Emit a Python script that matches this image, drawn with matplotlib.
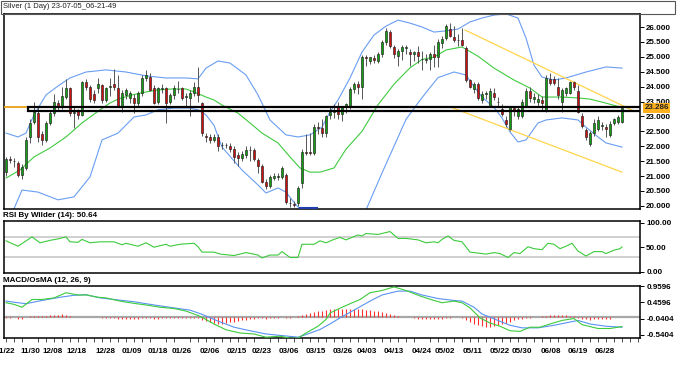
import matplotlib
matplotlib.use("Agg")
import matplotlib.pyplot as plt
from matplotlib.patches import Rectangle
from matplotlib.ticker import FixedLocator, MultipleLocator, NullFormatter
from matplotlib import font_manager

# ---- daily candles ----
opens = [21.13, 21.57, 21.52, 21.45, 21.02, 21.27, 22.31, 22.81, 23.10, 22.40,
         22.20, 22.78, 23.10, 23.45, 23.30, 23.65, 23.95, 23.12, 23.20, 23.05,
         24.15, 23.98, 23.75, 23.95, 24.05, 23.55, 23.98, 24.10, 23.95, 23.33,
         23.72, 23.62, 23.62, 23.44, 23.78, 24.30, 24.33, 23.94, 23.50, 23.92,
         23.94, 23.50, 23.72, 23.93, 23.94, 23.65, 23.61, 23.78, 24.00, 23.45,
         22.35, 22.30, 22.22, 22.32, 22.04, 22.04, 22.01, 21.90, 21.70, 21.59,
         21.70, 21.87, 21.87, 21.54, 21.34, 20.81, 20.66, 20.92, 20.98, 20.98,
         21.03, 20.10, 20.05, 20.08, 20.75, 21.82, 21.82, 21.76, 22.63, 22.60,
         22.45, 23.05, 23.15, 23.30, 23.08, 23.30, 23.30, 23.92, 24.09, 23.98,
         24.98, 24.87, 24.95, 24.87, 25.09, 25.49, 25.82, 25.32, 25.04, 25.20,
         25.30, 25.15, 25.10, 25.15, 24.91, 24.88, 24.91, 25.10, 25.00, 25.45,
         25.63, 25.93, 25.68, 25.58, 25.56, 25.30, 24.22, 23.92, 24.09, 23.55,
         23.75, 23.35, 23.80, 23.48, 23.24, 22.88, 22.58, 23.28, 23.01, 23.00,
         23.35, 23.85, 23.60, 23.50, 23.55, 23.21, 24.25, 24.25, 23.99, 23.50,
         23.80, 23.80, 24.15, 23.85, 23.01, 22.54, 22.07, 22.44, 22.58, 22.68,
         22.65, 22.38, 22.78, 22.81, 22.81]
highs = [21.65, 21.68, 21.62, 21.50, 21.40, 22.30, 22.90, 23.50, 23.30, 22.50,
         22.85, 23.20, 23.75, 23.55, 24.00, 24.25, 24.00, 23.30, 23.25, 24.20,
         24.25, 24.05, 23.90, 24.30, 24.10, 24.00, 24.30, 24.60, 24.40, 23.90,
         23.95, 23.85, 23.75, 23.85, 24.40, 24.55, 24.45, 24.05, 24.00, 24.10,
         24.00, 23.80, 24.05, 24.20, 24.00, 23.80, 23.90, 24.15, 24.66, 23.50,
         22.45, 22.40, 22.40, 22.40, 22.15, 22.10, 22.10, 22.00, 21.80, 21.85,
         22.00, 22.00, 21.95, 21.60, 21.40, 20.90, 21.05, 21.10, 21.10, 21.35,
         21.10, 20.25, 20.15, 20.65, 21.90, 22.40, 22.45, 22.75, 22.80, 22.90,
         23.05, 23.30, 23.40, 23.50, 23.35, 23.45, 24.00, 24.15, 24.20, 25.05,
         25.05, 25.00, 25.05, 25.15, 25.55, 25.95, 25.90, 25.40, 25.25, 25.40,
         25.40, 25.25, 25.20, 25.35, 25.20, 25.10, 25.15, 25.40, 25.60, 25.70,
         26.10, 26.12, 26.05, 25.75, 25.95, 25.35, 24.25, 24.15, 24.15, 23.85,
         23.85, 23.95, 23.95, 23.65, 23.40, 23.00, 23.35, 23.35, 23.30, 23.60,
         23.95, 24.00, 23.80, 23.75, 23.70, 24.40, 24.45, 24.35, 24.30, 23.95,
         24.00, 24.20, 24.20, 24.05, 23.10, 22.60, 22.50, 22.90, 23.00, 22.80,
         22.75, 22.85, 22.95, 23.05, 23.33]
lows = [21.00, 21.45, 21.30, 20.95, 20.90, 21.20, 22.10, 22.75, 22.15, 22.05,
        22.15, 22.70, 23.00, 23.20, 23.25, 23.60, 23.00, 22.60, 22.90, 23.00,
        23.90, 23.50, 23.45, 23.80, 23.45, 23.50, 23.70, 23.90, 23.30, 23.15,
        23.60, 23.45, 23.10, 23.35, 23.70, 24.20, 23.85, 23.40, 23.40, 23.80,
        22.78, 23.40, 23.60, 23.80, 23.55, 23.30, 23.00, 23.70, 23.50, 22.35,
        22.15, 22.10, 22.15, 21.85, 21.90, 21.95, 21.80, 21.45, 21.35, 21.50,
        21.60, 21.50, 21.50, 21.10, 20.75, 20.55, 20.60, 20.85, 20.85, 20.90,
        20.05, 19.97, 19.95, 20.00, 20.60, 21.70, 21.70, 21.70, 22.40, 22.30,
        22.30, 22.90, 22.95, 22.90, 22.85, 23.10, 23.25, 23.80, 23.75, 23.60,
        24.70, 24.75, 24.80, 24.80, 25.00, 25.40, 25.30, 24.95, 24.70, 24.90,
        25.10, 24.70, 24.85, 24.80, 24.55, 24.80, 24.55, 24.65, 24.65, 25.30,
        25.55, 25.65, 25.50, 25.35, 25.35, 24.15, 23.95, 23.80, 23.55, 23.45,
        23.60, 23.30, 23.55, 23.30, 23.00, 22.65, 22.50, 23.00, 22.90, 22.95,
        23.30, 23.50, 23.45, 23.35, 23.20, 23.15, 24.05, 24.05, 23.60, 23.15,
        23.70, 23.75, 23.90, 23.10, 22.60, 22.20, 22.00, 22.35, 22.50, 22.55,
        22.30, 22.30, 22.70, 22.75, 22.78]
closes = [21.57, 21.55, 21.50, 21.05, 21.30, 22.21, 22.78, 23.15, 22.31, 22.20,
          22.78, 23.10, 23.48, 23.30, 23.70, 23.95, 23.10, 23.15, 23.05, 24.15,
          23.98, 23.60, 23.55, 24.10, 23.55, 23.95, 24.02, 23.97, 23.35, 23.80,
          23.89, 23.78, 23.44, 23.78, 24.28, 24.38, 23.89, 23.44, 23.94, 23.94,
          23.44, 23.72, 23.94, 23.92, 23.61, 23.67, 23.78, 24.00, 23.72, 22.43,
          22.30, 22.22, 22.32, 22.01, 22.04, 22.04, 21.90, 21.65, 21.59, 21.74,
          21.87, 21.87, 21.56, 21.34, 20.81, 20.66, 20.98, 21.00, 20.98, 21.28,
          20.14, 20.08, 20.03, 20.59, 21.82, 21.77, 21.78, 22.63, 22.60, 22.45,
          23.00, 23.15, 23.19, 23.08, 23.30, 23.42, 23.92, 24.09, 24.00, 24.98,
          24.95, 24.98, 24.90, 25.09, 25.49, 25.88, 25.37, 25.09, 25.20, 25.32,
          25.32, 25.10, 25.15, 25.04, 24.91, 24.92, 25.08, 25.00, 25.50, 25.60,
          26.05, 25.70, 25.58, 25.56, 25.40, 24.22, 24.00, 24.09, 23.62, 23.75,
          23.80, 23.85, 23.65, 23.48, 23.08, 22.74, 23.32, 23.18, 23.24, 23.50,
          23.85, 23.61, 23.65, 23.60, 23.45, 24.28, 24.12, 24.12, 23.72, 23.89,
          23.94, 24.15, 23.98, 23.15, 22.68, 22.31, 22.44, 22.78, 22.88, 22.68,
          22.58, 22.75, 22.91, 22.98, 23.286]

# ---- Bollinger bands (20, 2), sampled ----
bb_upper_idx = [0, 3, 5, 7, 10, 13, 16, 20, 25, 30, 35, 40, 45, 48, 50, 53, 56, 60,
                63, 66, 70, 73, 76, 79, 81, 83, 86, 89, 92, 95, 98, 101, 104, 107,
                110, 113, 116, 119, 122, 125, 128, 130, 132, 134, 137, 140, 145, 150, 154]
bb_upper = [22.44, 22.31, 22.44, 23.05, 23.72, 24.02, 24.29, 24.49, 24.56, 24.49,
            24.36, 24.29, 24.29, 24.26, 24.62, 24.86, 24.79, 24.39, 23.72, 22.88,
            22.38, 22.31, 22.38, 22.64, 23.15, 23.55, 24.29, 25.16, 25.73, 26.03,
            26.23, 26.13, 26.00, 25.83, 25.87, 25.93, 26.17, 26.30, 26.40, 26.44,
            26.30, 25.63, 24.72, 24.32, 24.22, 24.29, 24.49, 24.66, 24.62]
bb_mid_idx = [0, 3.5, 7, 11, 15, 19, 23.5, 26, 28, 31.5, 35, 38, 41.5, 45, 47, 50,
              52, 54, 58, 61, 64, 68, 71, 73.5, 76, 78.5, 82, 85, 89, 93, 97, 101,
              104, 107, 110, 114, 118, 122, 127, 131, 134, 139, 143, 146, 149, 154]
bb_mid = [20.93, 21.20, 21.64, 21.94, 22.31, 22.78, 23.22, 23.45, 23.58, 23.72,
          23.82, 23.89, 23.92, 23.92, 23.82, 23.65, 23.55, 23.38, 23.11, 22.78,
          22.44, 22.11, 21.64, 21.27, 21.13, 21.13, 21.27, 21.90, 22.50, 23.39,
          24.08, 24.63, 24.91, 24.99, 25.23, 25.33, 25.02, 24.62, 24.22, 23.95,
          23.65, 23.65, 23.62, 23.58, 23.48, 23.30]
bb_lower_idx = [0, 2, 4, 8, 13, 17, 21, 24, 28, 32, 35, 38, 42, 46, 48, 50, 52, 54,
                59, 63, 65, 68, 70, 71.5, 73, 75, 80, 85, 90, 94, 100, 103, 105,
                108, 112, 115, 117, 119, 122, 124, 126, 128, 130, 133, 135, 139,
                143, 145, 148, 150, 154]
bb_lower = [19.60, 19.90, 20.53, 20.46, 20.20, 20.30, 20.97, 22.21, 22.44, 22.98,
            23.05, 23.22, 23.28, 23.28, 23.22, 23.05, 22.70, 21.97, 21.20, 20.70,
            20.43, 20.60, 20.46, 20.20, 19.96, 19.69, 19.30, 19.30, 19.86, 21.10,
            22.90, 23.45, 23.80, 24.30, 24.49, 24.39, 24.00, 23.65, 23.30, 22.95,
            22.48, 22.14, 22.21, 22.78, 22.88, 22.95, 22.88, 22.64, 22.31, 22.11,
            21.97]

# ---- drawn objects ----
channel_upper_idx = [114.75, 156.5]
channel_upper = [25.90, 23.21]
channel_lower_idx = [111.0, 154.0]
channel_lower = [23.32, 21.13]
zone_start = 5.5
zone_top = 23.325
zone_bottom = 23.165
low_mark_idx = [73.5, 77.75]
low_mark = [19.93, 19.93]
last_price = 23.286

# ---- RSI (14), sampled ----
rsi_idx = [0, 3, 6.5, 8.5, 11, 13, 15, 16, 18, 19, 21, 23.5, 27, 29, 30, 33, 35,
           37, 40, 41, 43.5, 47, 48, 49, 52, 53.5, 57, 60, 63, 64, 66, 68, 69,
           71, 73, 74, 77, 78.5, 80, 82, 83.5, 85, 88, 89, 90, 93, 96, 98, 100,
           103, 105, 107, 108, 109, 110.5, 112, 114, 116, 118, 120, 122, 123.5,
           125.5, 127, 128.5, 130.5, 132, 134, 135.5, 137, 138.5, 140, 141.5,
           143, 145, 147, 149, 150, 152, 153.5, 154]
rsi = [63, 52, 71, 59, 64, 67, 71, 61, 60, 66, 59, 61, 61, 55, 58, 52, 59, 50, 56,
       52, 56, 58, 51, 40, 40, 36, 33, 39, 34, 28, 34, 34, 41, 29, 29, 56, 56, 63,
       59, 66, 70, 65, 75, 73, 78, 76, 82, 68, 68, 65, 59, 61, 59, 66, 73, 64, 61,
       40, 38, 36, 39, 37, 29, 39, 37, 51, 47, 45, 58, 56, 47, 52, 58, 42, 32, 41,
       41, 37, 44, 47, 50.64]

# ---- MACD (12, 26, 9), sampled ----
macd_idx = [0, 2, 4, 6.5, 9, 12, 15, 18, 20, 23, 25, 28.5, 32, 35, 38.5, 42, 45,
            48.5, 52, 55, 58.5, 62, 65, 68.5, 71, 73, 75, 78, 80, 81, 84, 88.5,
            91, 94, 97, 100, 103.5, 107, 109, 112, 114, 116, 118.5, 121, 123.5,
            126, 128.5, 131, 133.5, 136, 139, 142, 144, 148, 151, 154]
macd = [0.45, 0.40, 0.31, 0.55, 0.55, 0.60, 0.76, 0.69, 0.69, 0.62, 0.60, 0.50,
        0.43, 0.38, 0.31, 0.27, 0.19, 0.03, -0.21, -0.39, -0.49, -0.52, -0.62,
        -0.59, -0.65, -0.65, -0.49, -0.28, -0.07, 0.13, 0.31, 0.55, 0.76, 0.83,
        0.94, 0.83, 0.66, 0.52, 0.45, 0.50, 0.45, 0.29, -0.02, -0.18, -0.28,
        -0.42, -0.44, -0.31, -0.31, -0.21, -0.10, -0.04, -0.23, -0.35, -0.35, -0.29]
signal_idx = [0, 3, 5, 9, 13.5, 17, 20, 23.5, 27, 32, 37, 42, 46, 49, 53, 57, 61,
              65, 69, 73, 75, 78.5, 81, 83.5, 88, 91, 94, 98, 101, 104, 108, 112,
              114, 117, 119, 123, 126, 129, 133, 137, 141, 143, 146, 150, 154]
signal = [0.50, 0.45, 0.42, 0.52, 0.62, 0.68, 0.70, 0.60, 0.55, 0.48, 0.38, 0.29,
          0.22, 0.09, -0.12, -0.31, -0.42, -0.52, -0.57, -0.62, -0.54, -0.38, -0.21,
          -0.02, 0.29, 0.50, 0.69, 0.81, 0.81, 0.69, 0.58, 0.52, 0.50, 0.31, 0.10,
          -0.10, -0.25, -0.33, -0.33, -0.25, -0.15, -0.10, -0.21, -0.28, -0.31]
osma = [-0.02, -0.03, 0.0, -0.05, -0.05, 0.0,
        0.03, 0.04, 0.05, 0.04, 0.05, 0.06, 0.07, 0.08, 0.09, 0.08, 0.05,
        0, 0, 0, 0, 0, 0, 0,
        -0.02, -0.02, -0.03, -0.03, -0.04, -0.04, -0.04, -0.05, -0.04, -0.04,
        -0.03, -0.03, -0.03, -0.04, -0.04, -0.03, -0.03, -0.03, -0.03, -0.03,
        -0.02, -0.02, -0.03, -0.03, -0.02,
        -0.08, -0.12, -0.16, -0.19, -0.21, -0.20, -0.18, -0.16, -0.14, -0.12,
        -0.10, -0.08,
        -0.05, -0.04, -0.03, -0.03, -0.04, -0.03, -0.02, -0.02,
        0.0, -0.02, -0.02, 0.0,
        0.03, 0.06, 0.09, 0.12, 0.15, 0.18, 0.20, 0.22, 0.24, 0.26, 0.27,
        0.27, 0.27, 0.26, 0.26, 0.25, 0.24, 0.23, 0.22, 0.20, 0.18, 0.16, 0.13,
        0.10, 0.06,
        0.03, 0.0, 0.0, 0.0,
        -0.03, -0.04, -0.05, -0.06, -0.06, -0.05, -0.05, -0.04, -0.03, -0.02,
        0.0, 0.0, -0.02,
        -0.08, -0.14, -0.20, -0.25, -0.28, -0.30, -0.29, -0.27, -0.24, -0.20,
        -0.17, -0.14, -0.10, -0.07,
        -0.05, -0.03, -0.02, 0.0, 0.0,
        0.03, 0.05, 0.07, 0.08, 0.08, 0.07, 0.06, 0.05, 0.04,
        -0.03, -0.05, -0.07, -0.08, -0.07, -0.06, -0.05, -0.04, -0.04,
        0.0, 0.0, 0.0]

# ---- axis labels ----
date_ticks = [-0.25, 6, 11.75, 17.75, 24.75, 31.5, 38, 44, 51, 57.75, 64, 70.75,
              77.5, 84.25, 90.25, 97, 104, 109.75, 116.75, 123.5, 129, 136.25,
              143, 149.75]
date_labels = ["11/22", "11/30", "12/08", "12/18", "12/28", "01/09", "01/18",
               "01/26", "02/06", "02/15", "02/23", "03/06", "03/15", "03/26",
               "04/03", "04/13", "04/24", "05/02", "05/11", "05/22", "05/30",
               "06/08", "06/19", "06/28"]
price_ticks = [20.0, 20.5, 21.0, 21.5, 22.0, 22.5, 23.0, 23.5, 24.0, 24.5, 25.0,
               25.5, 26.0]
rsi_ticks = [0, 50, 100]
macd_ticks = [-0.5404, -0.0404, 0.4596, 0.9596]

W, H = 677, 373

# narrow face if present, else plain Liberation Sans
fams = []
for name in ["Liberation Sans Narrow", "Liberation Sans", "DejaVu Sans"]:
    try:
        font_manager.findfont(name, fallback_to_default=False)
        fams.append(name)
    except ValueError:
        pass
plt.rcParams["font.family"] = fams or ["DejaVu Sans"]
NARROW = bool(fams) and fams[0] == "Liberation Sans Narrow"
FS = 6.9 if NARROW else 5.8


def fx(x):
    return x / W


def fy(y):
    return 1 - y / H


fig = plt.figure(figsize=(W / 100, H / 100), dpi=100)
fig.patch.set_facecolor("white")

left, right = 4, 640
ax = fig.add_axes([fx(left), fy(209), fx(right - left), (209 - 13.5) / H])
ax_rsi = fig.add_axes([fx(left), fy(273), fx(right - left), 52 / H])
ax_macd = fig.add_axes([fx(left), fy(338), fx(right - left), 52 / H])

n = len(closes)
idx = list(range(n))
XLIM = (-0.5, 158.5)

# bands
ax.plot(bb_upper_idx, bb_upper, color="#6A9EF2", lw=0.8, zorder=1)
ax.plot(bb_lower_idx, bb_lower, color="#6A9EF2", lw=0.8, zorder=1)
ax.plot(bb_mid_idx, bb_mid, color="#3FCB3F", lw=0.8, zorder=1)

# candles
up = [c >= o for o, c in zip(opens, closes)]
ax.vlines(idx, lows, highs, color="#555555", lw=0.7, zorder=2)
body_bot = [min(o, c) for o, c in zip(opens, closes)]
body_h = [max(abs(c - o), 0.015) for o, c in zip(opens, closes)]
colors = ["#12A012" if u else "#D01010" for u in up]
ax.bar(idx, body_h, bottom=body_bot, width=0.74, color=colors,
       edgecolor="#202020", linewidth=0.45, zorder=3)

# trend channel
ax.plot(channel_upper_idx, channel_upper, color="#FFD54A", lw=0.9, zorder=2)
ax.plot(channel_lower_idx, channel_lower, color="#FFD54A", lw=0.9, zorder=2)

# support zone + price line
ax.plot([XLIM[0], zone_start], [zone_top, zone_top], color="#E8A317", lw=1.3, zorder=4)
ax.add_patch(Rectangle((zone_start, zone_bottom), XLIM[1] - zone_start + 2,
                       zone_top - zone_bottom, fill=False, edgecolor="black",
                       lw=1.6, zorder=4, clip_on=True))
ax.plot(low_mark_idx, low_mark, color="#1F3FB0", lw=1.5, zorder=4)

ax.set_xlim(*XLIM)
ax.set_ylim(19.893, 26.453)
ax.yaxis.tick_right()
ax.yaxis.set_major_locator(FixedLocator(price_ticks))
ax.set_yticklabels([f"{t:.3f}" for t in price_ticks])
ax.set_xticks([])

# RSI
ax_rsi.axhline(70, color="#C8C8C8", lw=1.2, zorder=1)
ax_rsi.axhline(30, color="#C8C8C8", lw=1.2, zorder=1)
ax_rsi.plot(rsi_idx, rsi, color="#3CCB3C", lw=0.8, zorder=2)
ax_rsi.set_xlim(*XLIM)
ax_rsi.set_ylim(-2.65, 103.5)
ax_rsi.yaxis.tick_right()
ax_rsi.yaxis.set_major_locator(FixedLocator(rsi_ticks))
ax_rsi.set_yticklabels([f"{t:.2f}" for t in rsi_ticks])
ax_rsi.set_xticks([])

# MACD
ax_macd.axhline(0, color="#A8A8A8", lw=1.6, zorder=1)
ax_macd.vlines(idx, 0, osma, color="#FF3030", lw=0.8, zorder=2)
ax_macd.plot(signal_idx, signal, color="#5A92F0", lw=0.8, zorder=3)
ax_macd.plot(macd_idx, macd, color="#3CCB3C", lw=0.8, zorder=3)
ax_macd.set_xlim(*XLIM)
ax_macd.set_ylim(-0.645, 0.969)
ax_macd.yaxis.tick_right()
ax_macd.yaxis.set_major_locator(FixedLocator(macd_ticks))
ax_macd.set_yticklabels([f"{t:.4f}" for t in macd_ticks])
ax_macd.xaxis.set_major_locator(FixedLocator(date_ticks))
ax_macd.set_xticklabels(date_labels)
ax_macd.xaxis.set_minor_locator(MultipleLocator(2))
ax_macd.xaxis.set_minor_formatter(NullFormatter())
ax_macd.tick_params(axis="x", which="major", length=0, pad=7, labelsize=FS)
ax_macd.tick_params(axis="x", which="minor", length=3, width=0.6, color="#333333")
for lab in ax_macd.get_xticklabels():
    lab.set_fontweight("bold")

for a in (ax, ax_rsi, ax_macd):
    a.set_facecolor("white")
    for s in a.spines.values():
        s.set_linewidth(1.1)
        s.set_color("black")
    a.tick_params(axis="y", which="major", length=3, width=0.7, pad=1.5,
                  labelsize=FS, direction="out")
    for lab in a.get_yticklabels():
        lab.set_fontweight("bold")

# last price tag
ax.annotate(f"{last_price:.3f}", xy=(1.0, last_price), xycoords=("axes fraction", "data"),
            xytext=(3.2, 0), textcoords="offset points", va="center", ha="left",
            fontsize=FS, fontweight="bold", color="#222222",
            bbox=dict(boxstyle="square,pad=0.15", fc="#FFB21E", ec="none"), zorder=6)

# title bar and panel captions
fig.patches.append(Rectangle((fx(1), fy(13.5)), fx(674), 12.5 / H, transform=fig.transFigure,
                             fill=False, edgecolor="#555555", lw=0.8))
fig.text(fx(3), fy(7), "Silver (1 Day) 23-07-05_06-21-49", fontsize=FS - 0.3,
         va="center", ha="left", color="#222222")
fig.text(fx(3), fy(215), "RSI By Wilder (14): 50.64", fontsize=FS,
         fontweight="bold", va="center", ha="left")
fig.text(fx(3), fy(280), "MACD/OsMA (12, 26, 9)", fontsize=FS,
         fontweight="bold", va="center", ha="left")

fig.savefig("out.png", dpi=100)
